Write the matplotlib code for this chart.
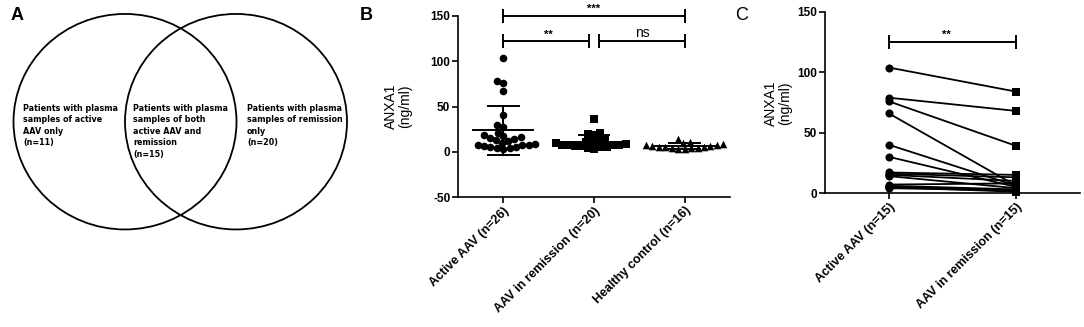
import numpy as np
import matplotlib
matplotlib.use("Agg")
import matplotlib.pyplot as plt
from matplotlib.patches import Ellipse

plt.rcParams['font.family'] = ['Liberation Sans', 'DejaVu Sans']
plt.rcParams['axes.unicode_minus'] = False

# ---------------- data ----------------
venn_texts = [
    "Patients with plasma\nsamples of active\nAAV only\n(n=11)",
    "Patients with plasma\nsamples of both\nactive AAV and\nremission\n(n=15)",
    "Patients with plasma\nsamples of remission\nonly\n(n=20)",
]

groups_b = ["Active AAV (n=26)", "AAV in remission (n=20)", "Healthy control (n=16)"]
active_b = [104, 78, 76, 67, 41, 30, 27, 21, 18, 17, 16, 15, 14, 13, 12, 10, 9, 8, 7, 7, 6, 5, 5, 4, 4, 3]
remission_b = [36, 21, 20, 19, 13, 12, 11, 10, 10, 9, 8, 8, 7, 7, 6, 6, 5, 5, 4, 3]
healthy_b = [14, 11, 10, 9, 8, 7, 6, 6, 5, 5, 5, 4, 4, 4, 3, 3]
yticks_b = [-50, 0, 50, 100, 150]

groups_c = ["Active AAV (n=15)", "AAV in remission (n=15)"]
paired_active = [104, 79, 76, 66, 40, 30, 17, 16, 15, 14, 7, 6, 5, 5, 4]
paired_remission = [84, 68, 39, 6, 6, 5, 15, 13, 10, 4, 8, 3, 2, 1, 2]
yticks_c = [0, 50, 100, 150]

W, H = 1084, 327
fig = plt.figure(figsize=(W / 100, H / 100), dpi=100)


def px_axes(x0, y_top, x1, y_bot):
    return fig.add_axes([x0 / W, 1 - y_bot / H, (x1 - x0) / W, (y_bot - y_top) / H])


def swarm_offsets(vals, ppx, ppy, d):
    vals = np.asarray(vals, float)
    order = np.argsort(vals)
    placed = []
    offs = np.zeros(len(vals))
    for i in order:
        y = vals[i] * ppy
        cands = [0.0]
        for (px, py) in placed:
            dy = y - py
            if abs(dy) < d:
                dx = np.sqrt(d * d - dy * dy)
                cands += [px + dx, px - dx]
        cands.sort(key=lambda c: (abs(c), c))
        chosen = cands[-1]
        for c in cands:
            if all((c - px) ** 2 + (y - py) ** 2 >= d * d - 1e-6 for px, py in placed):
                chosen = c
                break
        placed.append((chosen, y))
        offs[i] = chosen / ppx
    return offs


def bracket(ax, x1, x2, y, cap):
    kw = dict(color='black', lw=1.4, clip_on=False, solid_capstyle='butt')
    ax.plot([x1, x2], [y, y], **kw)
    ax.plot([x1, x1], [y - cap, y + cap], **kw)
    ax.plot([x2, x2], [y - cap, y + cap], **kw)


def style_axes(ax):
    for s in ['top', 'right']:
        ax.spines[s].set_visible(False)
    for s in ['left', 'bottom']:
        ax.spines[s].set_linewidth(1.2)
    ax.tick_params(axis='both', direction='out', length=4, width=1.2, pad=1.5)
    for lab in ax.get_yticklabels():
        lab.set_fontweight('bold')
        lab.set_fontsize(8.5)


# ---------------- panel A ----------------
axA = px_axes(0, 0, 360, 327)
axA.set_xlim(0, 360)
axA.set_ylim(327, 0)
axA.axis('off')
axA.add_patch(Ellipse((125, 121.7), 223, 215.5, fill=False, lw=1.3, ec='black'))
axA.add_patch(Ellipse((236, 121.7), 222, 215.5, fill=False, lw=1.3, ec='black'))
for x, t in zip([23, 133, 247], venn_texts):
    axA.text(x, 104, t, ha='left', va='top', fontsize=5.8, fontweight='bold',
             family=['DejaVu Sans'], linespacing=1.35)
fig.text(17 / W, 1 - 15 / H, "A", fontsize=13, fontweight='bold', ha='center', va='center')

# ---------------- panel B ----------------
axB = px_axes(458, 16, 730, 197)
axB.set_xlim(-0.5, 2.5)
axB.set_ylim(-50, 150)
ppx_b, ppy_b = 272 / 3.0, 181 / 200.0
markers = ['o', 's', '^']
for gi, (vals, m) in enumerate(zip([active_b, remission_b, healthy_b], markers)):
    offs = swarm_offsets(vals, ppx_b, ppy_b, 6.5)
    axB.scatter(gi + offs, vals, marker=m, s=30, color='black', zorder=3, linewidths=0)
    mean = np.mean(vals)
    sd = np.std(vals, ddof=1)
    axB.plot([gi - 0.33, gi + 0.33], [mean, mean], color='black', lw=1.4, zorder=4)
    axB.plot([gi, gi], [mean - sd, mean + sd], color='black', lw=1.4, zorder=4)
    axB.plot([gi - 0.17, gi + 0.17], [mean + sd, mean + sd], color='black', lw=1.4, zorder=4)
    axB.plot([gi - 0.17, gi + 0.17], [mean - sd, mean - sd], color='black', lw=1.4, zorder=4)
axB.set_xticks(range(3))
axB.set_xticklabels(groups_b, rotation=45, ha='right', rotation_mode='anchor',
                    fontsize=9, fontweight='bold')
axB.set_yticks(yticks_b)
style_axes(axB)
capb = 7 / ppy_b
bracket(axB, 0, 2, 150, capb)
bracket(axB, 0, 0.95, 122, capb)
bracket(axB, 1.05, 2, 122, capb)
axB.text(1, 152, "***", ha='center', va='bottom', fontsize=8, fontweight='bold')
axB.text(0.5, 124, "**", ha='center', va='bottom', fontsize=8, fontweight='bold')
axB.text(1.53, 123, "ns", ha='center', va='bottom', fontsize=10)
axB.text(-0.22, 0.5, "ANXA1\n(ng/ml)", transform=axB.transAxes, rotation=90,
         ha='center', va='center', fontsize=10, linespacing=1.0)
fig.text(366 / W, 1 - 15 / H, "B", fontsize=13, fontweight='bold', ha='center', va='center')

# ---------------- panel C ----------------
axC = px_axes(825, 12, 1080, 193)
axC.set_xlim(-0.5, 1.5)
axC.set_ylim(0, 150)
ppy_c = 181 / 150.0
for a, r in zip(paired_active, paired_remission):
    axC.plot([0, 1], [a, r], color='black', lw=1.3, zorder=2, clip_on=False)
axC.scatter(np.zeros(len(paired_active)), paired_active, marker='o', s=34,
            color='black', zorder=3, clip_on=False, linewidths=0)
axC.scatter(np.ones(len(paired_remission)), paired_remission, marker='s', s=34,
            color='black', zorder=3, clip_on=False, linewidths=0)
axC.set_xticks([0, 1])
axC.set_xticklabels(groups_c, rotation=45, ha='right', rotation_mode='anchor',
                    fontsize=9, fontweight='bold')
axC.set_yticks(yticks_c)
style_axes(axC)
bracket(axC, 0, 1, 125, 7 / ppy_c)
axC.text(0.45, 127, "**", ha='center', va='bottom', fontsize=8, fontweight='bold')
axC.text((778 - 825) / 255, (193 - 103) / 181, "ANXA1\n(ng/ml)", transform=axC.transAxes,
         rotation=90, ha='center', va='center', fontsize=10, linespacing=1.0)
fig.text(742 / W, 1 - 15 / H, "C", fontsize=13, ha='center', va='center')

fig.savefig("out.png", dpi=100)
